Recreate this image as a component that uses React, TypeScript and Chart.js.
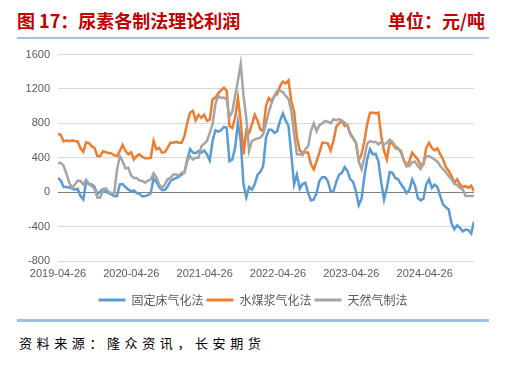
import React, { useEffect, useRef } from 'react';
import { Chart, registerables } from 'chart.js';

Chart.register(...registerables);

// Biweekly observations starting 2019-04-26
const STEP_DAYS = 14;
const STEPS_PER_YEAR = 365.25 / STEP_DAYS;

const tickLabels = ['2019-04-26', '2020-04-26', '2021-04-26', '2022-04-26', '2023-04-26', '2024-04-26'];
const seriesNames = ['固定床气化法', '水煤浆气化法', '天然气制法'];
const yTicks = { min: -800, max: 1600, step: 400 };

const fixedBed = [
  165, 135, 60, 60, 55, 45, 30, 40, -45, -85,
  120, 95, 90, 60, -25, 10, 35, 5, -10, -25,
  -45, -45, 90, 95, 60, 30, 10, 20, -10, -20,
  -50, -45, -35, -10, 160, 120, 60, 25, 25, 65,
  130, 150, 165, 180, 205, 235, 380, 500, 460, 455,
  480, 460, 485, 440, 370, 595, 720, 705, 720, 760,
  750, 360, 380, 515, 810, 595, 90, -60, 60, 30,
  95, 205, 235, 305, 635, 725, 725, 690, 710, 830,
  915, 835, 770, 440, 90, 205, 40, 95, 110, -10,
  -95, -85, -10, 130, 175, 175, 130, 10, 10, 120,
  205, 225, 290, 245, 150, 120, 10, -150, -75, 185,
  380, 500, 440, 445, 360, 110, -85, 50, 235, 225,
  165, 150, 95, 50, -10, 25, 150, 80, -65, -95,
  -75, 90, 150, 50, 90, 60, -45, -145, -175, -200,
  -360, -430, -385, -415, -455, -435, -440, -480, -340,
];

const coalWaterSlurry = [
  680, 665, 590, 600, 595, 600, 595, 590, 510, 470,
  580, 570, 535, 515, 420, 420, 475, 465, 455, 450,
  430, 420, 480, 550, 480, 440, 465, 380, 420, 440,
  410, 395, 395, 400, 595, 500, 515, 460, 465, 515,
  575, 575, 585, 575, 575, 655, 810, 925, 945, 835,
  900, 865, 900, 830, 845, 1080, 1100, 1150, 1185, 1215,
  1180, 770, 745, 865, 1100, 830, 440, 720, 690, 790,
  900, 830, 730, 710, 1005, 1095, 1060, 1120, 1140, 1235,
  1285, 1265, 1300, 1060, 935, 635, 485, 460, 465, 460,
  325, 265, 360, 460, 575, 575, 565, 485, 595, 760,
  800, 830, 770, 780, 675, 625, 575, 370, 445, 595,
  790, 925, 925, 915, 925, 655, 480, 380, 575, 565,
  515, 500, 480, 375, 305, 360, 460, 420, 380, 315,
  320, 515, 575, 515, 485, 510, 440, 380, 290, 250,
  185, 110, 150, 90, 60, 70, 50, 75, 10,
];

const naturalGas = [
  340, 340, 305, 215, 110, 50, 90, 135, 130, 90,
  145, 95, 70, 40, -65, -65, 20, 45, 5, -10,
  -10, 265, 420, 360, 275, 285, 195, 165, 165, 135,
  130, 110, 135, 150, 220, 175, 90, 50, 90, 150,
  165, 205, 205, 195, 225, 225, 360, 420, 380, 400,
  400, 535, 565, 595, 690, 790, 1025, 1120, 1095, 1100,
  1080, 875, 935, 1120, 1295, 1490, 1120, 860, 480, 595,
  615, 625, 635, 675, 800, 935, 1040, 1120, 1180, 1180,
  1165, 1120, 1080, 945, 675, 440, 440, 430, 500, 535,
  710, 800, 710, 780, 800, 830, 820, 800, 850, 835,
  850, 830, 810, 760, 685, 635, 575, 360, 265, 400,
  565, 595, 585, 585, 555, 585, 555, 575, 610, 585,
  535, 515, 460, 375, 325, 305, 350, 355, 305, 270,
  340, 415, 420, 400, 380, 355, 305, 265, 235, 185,
  150, 95, 85, 50, 30, -45, -45, -45, -45,
];

const seriesValues = [fixedBed, coalWaterSlurry, naturalGas];
const seriesColors = ['#5B9BD5', '#ED7D31', '#A5A5A5'];

const AXIS_COLOR = '#595959';
const TICK_FONT = { family: '"Liberation Sans", Arial, sans-serif', size: 11 };

export default function App() {
  const canvasRef = useRef<HTMLCanvasElement | null>(null);

  useEffect(() => {
    if (!canvasRef.current) return;
    const chart = new Chart(canvasRef.current, {
      type: 'line',
      data: {
        datasets: seriesValues.map((vals, i) => ({
          label: seriesNames[i],
          data: vals.map((v, k) => ({ x: k, y: v })),
          borderColor: seriesColors[i],
          backgroundColor: seriesColors[i],
          borderWidth: 2.5,
          pointRadius: 0,
          tension: 0,
          order: 3 - i,
          yAxisID: 'y',
        })),
      },
      options: {
        animation: false,
        responsive: false,
        devicePixelRatio: 1,
        layout: { padding: { left: 0, right: 0, top: 14, bottom: 0 } },
        plugins: {
          tooltip: { enabled: false },
          legend: {
            position: 'bottom',
            labels: {
              boxWidth: 27,
              boxHeight: 3,
              padding: 3,
              color: AXIS_COLOR,
              font: { family: '"Noto Sans CJK SC", sans-serif', size: 12 },
              generateLabels: (c: any) =>
                c.data.datasets.map((ds: any, i: number) => ({
                  text: ds.label,
                  fillStyle: ds.borderColor,
                  strokeStyle: ds.borderColor,
                  lineWidth: 0,
                  hidden: false,
                  datasetIndex: i,
                  fontColor: AXIS_COLOR,
                })),
            },
          },
        },
        scales: {
          x: {
            type: 'linear',
            min: 0,
            max: fixedBed.length - 1,
            grid: { display: false, drawTicks: false },
            border: { display: false },
            afterBuildTicks: (axis: any) => {
              axis.ticks = tickLabels.map((_, k) => ({ value: k * STEPS_PER_YEAR }));
            },
            afterFit: (axis: any) => {
              axis.height = 30;
            },
            ticks: {
              autoSkip: false,
              maxRotation: 0,
              padding: 6,
              color: AXIS_COLOR,
              font: TICK_FONT,
              callback: (_v: any, i: number) => tickLabels[i],
            },
          },
          y: {
            position: 'left',
            min: yTicks.min,
            max: yTicks.max,
            border: { display: false },
            grid: {
              drawTicks: false,
              lineWidth: 1,
              color: (ctx: any) => (ctx.tick && ctx.tick.value === 0 ? '#7F7F7F' : '#D9D9D9'),
            },
            afterFit: (axis: any) => {
              axis.width = 58;
            },
            ticks: {
              stepSize: yTicks.step,
              padding: 8,
              color: AXIS_COLOR,
              font: TICK_FONT,
              callback: (v: any) => String(v),
            },
          },
          yRightSpace: {
            position: 'right',
            display: true,
            grid: { display: false, drawTicks: false },
            border: { display: false },
            ticks: { display: false },
            afterFit: (axis: any) => {
              axis.width = 32;
            },
          },
        },
      } as any,
    });
    return () => chart.destroy();
  }, []);

  const cjk = '"Noto Sans CJK SC", "Microsoft YaHei", sans-serif';

  return (
    <div style={{ position: 'absolute', left: 0, top: 0, width: 506, height: 370, background: '#fff', overflow: 'hidden' }}>
      <div style={{ position: 'absolute', left: 17, top: 11, fontFamily: cjk, fontWeight: 700, fontSize: 18, lineHeight: '18px', color: '#C00000', whiteSpace: 'nowrap' }}>
        图 17：尿素各制法理论利润
      </div>
      <div style={{ position: 'absolute', right: 21, top: 11, fontFamily: cjk, fontWeight: 700, fontSize: 18, lineHeight: '18px', color: '#C00000', whiteSpace: 'nowrap' }}>
        单位：元/吨
      </div>
      <div style={{ position: 'absolute', left: 17, top: 37, width: 472, height: 2, background: '#9DC3E6' }} />
      <canvas ref={canvasRef} width={506} height={276} style={{ position: 'absolute', left: 0, top: 40, width: 506, height: 276 }} />
      <div style={{ position: 'absolute', left: 17, top: 319, width: 472, height: 3, background: '#9DC3E6' }} />
      <div style={{ position: 'absolute', left: 19, top: 336, fontFamily: cjk, fontSize: 13, lineHeight: '14px', letterSpacing: '4.6px', color: '#000', whiteSpace: 'nowrap' }}>
        资料来源：隆众资讯，长安期货
      </div>
    </div>
  );
}
